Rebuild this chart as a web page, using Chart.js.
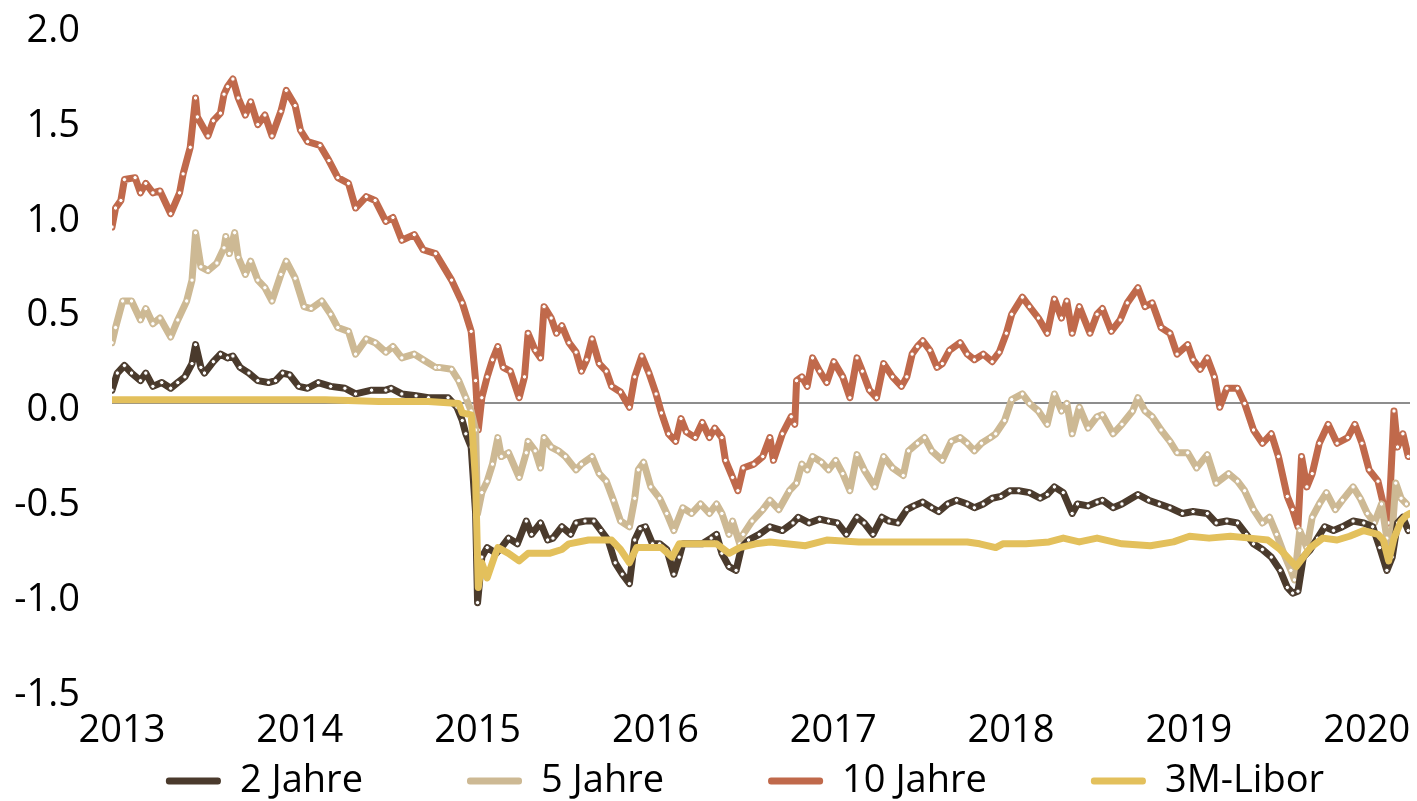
<!DOCTYPE html>
<html><head><meta charset="utf-8">
<script src="https://cdn.jsdelivr.net/npm/chart.js@4.4.1/dist/chart.umd.min.js"></script>
<style>html,body{margin:0;padding:0;background:#fff;}canvas{display:block;}</style>
</head><body>
<canvas id="c" width="1417" height="801"></canvas>
<script>
const seriesNames = ['2 Jahre', '5 Jahre', '10 Jahre', '3M-Libor'];
const seriesColors = ['#4a3a2c', '#cdb994', '#c0694b', '#e3c05c'];
const yearTicks = [2013, 2014, 2015, 2016, 2017, 2018, 2019, 2020];
const valueTicks = [-1.5, -1.0, -0.5, 0.0, 0.5, 1.0, 1.5, 2.0];

// [decimal year, yield %]
const twoYear = [[2013.00,0.07],[2013.03,0.16],[2013.07,0.20],[2013.11,0.16],[2013.16,0.12],[2013.19,0.16],[2013.23,0.09],[2013.28,0.11],[2013.33,0.08],[2013.37,0.11],[2013.41,0.14],[2013.45,0.21],[2013.47,0.31],[2013.50,0.19],[2013.52,0.16],[2013.57,0.22],[2013.61,0.26],[2013.65,0.24],[2013.68,0.25],[2013.72,0.19],[2013.77,0.16],[2013.82,0.12],[2013.88,0.11],[2013.92,0.12],[2013.96,0.16],[2014.00,0.15],[2014.05,0.09],[2014.10,0.08],[2014.16,0.11],[2014.23,0.09],[2014.31,0.08],[2014.37,0.05],[2014.46,0.07],[2014.54,0.07],[2014.57,0.08],[2014.63,0.05],[2014.71,0.04],[2014.78,0.03],
[2014.89,0.03],[2014.94,-0.02],[2014.97,-0.09],[2014.99,-0.16],[2015.02,-0.23],[2015.045,-0.58],[2015.056,-1.05],[2015.08,-0.81],[2015.11,-0.76],[2015.16,-0.79],[2015.19,-0.76],[2015.23,-0.71],[2015.28,-0.74],[2015.33,-0.62],[2015.36,-0.69],[2015.41,-0.63],[2015.45,-0.72],[2015.48,-0.71],[2015.53,-0.65],[2015.58,-0.69],[2015.61,-0.63],[2015.66,-0.62],[2015.71,-0.62],[2015.75,-0.67],[2015.79,-0.72],[2015.83,-0.84],[2015.87,-0.90],[2015.91,-0.95],[2015.94,-0.72],[2015.97,-0.66],[2016.00,-0.65],[2016.04,-0.74],[2016.08,-0.74],[2016.12,-0.77],[2016.16,-0.90],[2016.19,-0.81],[2016.21,-0.74],[2016.26,-0.74],[2016.32,-0.74],[2016.37,-0.71],[2016.40,-0.69],[2016.43,-0.79],[2016.47,-0.86],[2016.51,-0.88],[2016.54,-0.76],[2016.58,-0.72],[2016.64,-0.69],[2016.70,-0.65],
[2016.77,-0.67],[2016.83,-0.63],[2016.86,-0.60],[2016.92,-0.63],[2016.98,-0.61],[2017.03,-0.62],[2017.08,-0.63],[2017.13,-0.69],[2017.19,-0.60],[2017.23,-0.63],[2017.28,-0.69],[2017.33,-0.60],[2017.37,-0.62],[2017.42,-0.63],[2017.47,-0.56],[2017.51,-0.54],[2017.56,-0.52],[2017.61,-0.55],[2017.65,-0.57],[2017.70,-0.53],[2017.75,-0.51],[2017.81,-0.53],[2017.85,-0.55],[2017.90,-0.53],[2017.95,-0.50],[2018.00,-0.49],[2018.05,-0.46],[2018.10,-0.46],[2018.16,-0.47],[2018.22,-0.50],[2018.26,-0.48],[2018.30,-0.44],[2018.35,-0.47],[2018.40,-0.58],[2018.43,-0.53],[2018.49,-0.54],[2018.54,-0.52],
[2018.57,-0.51],[2018.63,-0.55],[2018.68,-0.53],[2018.77,-0.48],[2018.83,-0.51],[2018.89,-0.53],[2018.95,-0.55],[2019.02,-0.58],[2019.08,-0.57],[2019.16,-0.58],[2019.21,-0.63],[2019.27,-0.62],[2019.33,-0.63],[2019.38,-0.69],[2019.42,-0.74],[2019.47,-0.77],[2019.52,-0.81],[2019.57,-0.88],[2019.61,-0.97],[2019.64,-1.00],[2019.67,-0.99],[2019.70,-0.81],[2019.74,-0.77],[2019.78,-0.71],[2019.82,-0.65],[2019.87,-0.67],[2019.92,-0.65],[2019.98,-0.62],[2020.04,-0.63],[2020.09,-0.65],[2020.13,-0.76],[2020.17,-0.88],[2020.20,-0.81],[2020.23,-0.63],[2020.26,-0.60],[2020.29,-0.67]];

const fiveYear = [[2013.00,0.32],[2013.02,0.40],[2013.06,0.54],[2013.11,0.54],[2013.16,0.44],[2013.19,0.50],[2013.23,0.42],[2013.27,0.45],[2013.33,0.35],[2013.37,0.44],[2013.42,0.54],[2013.45,0.65],[2013.47,0.90],[2013.50,0.72],[2013.54,0.70],[2013.59,0.74],[2013.63,0.82],[2013.64,0.88],[2013.66,0.79],[2013.69,0.90],[2013.71,0.77],[2013.75,0.68],[2013.78,0.75],[2013.82,0.65],[2013.86,0.61],[2013.90,0.54],[2013.95,0.68],[2013.98,0.75],[2014.03,0.66],[2014.08,0.51],[2014.12,0.50],[2014.18,0.54],[2014.23,0.47],[2014.27,0.40],[2014.33,0.38],[2014.37,0.26],[2014.43,0.34],[2014.48,0.32],[2014.54,0.27],[2014.58,0.30],[2014.63,0.24],[2014.70,0.26],[2014.75,0.23],[2014.82,0.19],
[2014.84,0.19],[2014.91,0.18],[2014.95,0.12],[2014.99,0.03],[2015.02,-0.04],[2015.045,-0.14],[2015.056,-0.58],[2015.08,-0.47],[2015.11,-0.41],[2015.14,-0.32],[2015.17,-0.18],[2015.19,-0.28],[2015.23,-0.26],[2015.29,-0.39],[2015.33,-0.26],[2015.34,-0.20],[2015.38,-0.25],[2015.41,-0.34],[2015.43,-0.18],[2015.47,-0.23],[2015.51,-0.25],[2015.55,-0.28],[2015.61,-0.35],[2015.64,-0.32],[2015.70,-0.28],[2015.74,-0.37],[2015.78,-0.41],[2015.82,-0.51],[2015.86,-0.62],[2015.91,-0.65],[2015.94,-0.50],[2015.96,-0.35],[2015.99,-0.31],[2016.03,-0.44],[2016.08,-0.50],[2016.12,-0.58],[2016.16,-0.67],[2016.21,-0.55],[2016.26,-0.58],[2016.31,-0.53],[2016.36,-0.58],[2016.40,-0.53],[2016.43,-0.58],[2016.47,-0.69],[2016.49,-0.62],[2016.53,-0.74],[2016.55,-0.69],[2016.60,-0.62],[2016.66,-0.56],[2016.70,-0.51],
[2016.75,-0.56],[2016.81,-0.46],[2016.85,-0.42],[2016.88,-0.32],[2016.91,-0.35],[2016.94,-0.28],[2016.99,-0.31],[2017.03,-0.35],[2017.07,-0.30],[2017.11,-0.37],[2017.15,-0.46],[2017.19,-0.27],[2017.23,-0.35],[2017.29,-0.44],[2017.34,-0.28],[2017.39,-0.34],[2017.45,-0.38],[2017.48,-0.25],[2017.53,-0.21],[2017.57,-0.18],[2017.61,-0.25],[2017.67,-0.30],[2017.72,-0.20],[2017.77,-0.18],[2017.81,-0.21],[2017.85,-0.25],[2017.89,-0.21],[2017.94,-0.18],[2017.97,-0.16],[2018.02,-0.09],[2018.06,0.02],[2018.12,0.05],[2018.16,0.00],[2018.21,-0.04],[2018.26,-0.11],[2018.30,0.05],[2018.34,-0.04],[2018.37,0.00],[2018.40,-0.16],[2018.44,-0.02],[2018.49,-0.13],[2018.54,-0.07],
[2018.57,-0.06],[2018.63,-0.16],[2018.68,-0.11],[2018.74,-0.04],[2018.77,0.03],[2018.81,-0.04],[2018.85,-0.07],[2018.90,-0.14],[2018.95,-0.20],[2018.99,-0.26],[2019.05,-0.26],[2019.10,-0.34],[2019.16,-0.27],[2019.21,-0.42],[2019.28,-0.37],[2019.33,-0.41],[2019.37,-0.46],[2019.42,-0.56],[2019.47,-0.63],[2019.51,-0.60],[2019.55,-0.69],[2019.59,-0.79],[2019.63,-0.88],[2019.65,-0.93],[2019.68,-0.67],[2019.72,-0.76],[2019.75,-0.60],[2019.79,-0.53],[2019.83,-0.47],[2019.88,-0.56],[2019.92,-0.51],[2019.98,-0.44],[2020.02,-0.50],[2020.06,-0.58],[2020.10,-0.63],[2020.14,-0.53],[2020.17,-0.71],[2020.19,-0.81],[2020.22,-0.42],[2020.25,-0.50],[2020.28,-0.53]];

const tenYear = [[2013.00,0.93],[2013.02,1.03],[2013.05,1.07],[2013.07,1.18],[2013.13,1.19],[2013.16,1.11],[2013.19,1.16],[2013.23,1.11],[2013.27,1.12],[2013.33,1.00],[2013.38,1.11],[2013.40,1.21],[2013.44,1.35],[2013.47,1.61],[2013.48,1.51],[2013.54,1.41],[2013.57,1.49],[2013.61,1.53],[2013.63,1.63],[2013.65,1.67],[2013.68,1.71],[2013.71,1.61],[2013.75,1.52],[2013.78,1.59],[2013.82,1.47],[2013.86,1.52],[2013.90,1.41],[2013.95,1.54],[2013.98,1.65],[2014.03,1.57],[2014.06,1.44],[2014.10,1.38],[2014.17,1.36],[2014.22,1.28],[2014.27,1.19],[2014.33,1.16],[2014.37,1.03],[2014.43,1.09],[2014.48,1.07],[2014.54,0.96],[2014.58,0.98],[2014.63,0.86],[2014.70,0.89],[2014.75,0.81],[2014.82,0.79],
[2014.91,0.65],[2014.97,0.53],[2015.02,0.38],[2015.045,0.12],[2015.06,-0.14],[2015.08,0.03],[2015.11,0.14],[2015.14,0.23],[2015.17,0.30],[2015.20,0.19],[2015.24,0.17],[2015.29,0.03],[2015.32,0.14],[2015.34,0.37],[2015.38,0.28],[2015.41,0.24],[2015.43,0.51],[2015.47,0.45],[2015.50,0.37],[2015.53,0.41],[2015.57,0.32],[2015.61,0.27],[2015.64,0.17],[2015.67,0.23],[2015.70,0.34],[2015.74,0.21],[2015.78,0.17],[2015.81,0.09],[2015.86,0.06],[2015.91,-0.02],[2015.94,0.14],[2015.98,0.25],[2016.02,0.16],[2016.06,0.05],[2016.09,-0.05],[2016.13,-0.16],[2016.17,-0.20],[2016.20,-0.08],[2016.23,-0.15],[2016.28,-0.18],[2016.32,-0.10],[2016.36,-0.18],[2016.39,-0.13],[2016.43,-0.18],[2016.45,-0.30],[2016.49,-0.39],[2016.52,-0.46],[2016.55,-0.34],[2016.61,-0.32],[2016.66,-0.28],[2016.70,-0.18],
[2016.72,-0.30],[2016.77,-0.16],[2016.82,-0.07],[2016.84,-0.11],[2016.85,0.12],[2016.88,0.14],[2016.91,0.09],[2016.94,0.24],[2016.98,0.17],[2017.02,0.11],[2017.06,0.22],[2017.11,0.14],[2017.15,0.03],[2017.19,0.24],[2017.22,0.17],[2017.26,0.07],[2017.30,0.03],[2017.34,0.21],[2017.39,0.14],[2017.44,0.09],[2017.47,0.14],[2017.50,0.26],[2017.53,0.30],[2017.56,0.33],[2017.60,0.28],[2017.64,0.19],[2017.67,0.21],[2017.71,0.28],[2017.77,0.32],[2017.81,0.26],[2017.85,0.23],[2017.90,0.26],[2017.95,0.22],[2017.99,0.27],[2018.03,0.37],[2018.06,0.47],[2018.12,0.56],[2018.16,0.51],[2018.21,0.45],[2018.26,0.37],[2018.30,0.55],[2018.34,0.45],[2018.37,0.54],[2018.40,0.37],[2018.44,0.51],[2018.50,0.37],[2018.54,0.47],
[2018.57,0.50],[2018.62,0.38],[2018.67,0.44],[2018.71,0.53],[2018.77,0.61],[2018.81,0.51],[2018.85,0.53],[2018.90,0.40],[2018.95,0.37],[2018.99,0.26],[2019.05,0.31],[2019.08,0.23],[2019.12,0.18],[2019.16,0.24],[2019.20,0.14],[2019.23,-0.02],[2019.27,0.08],[2019.33,0.08],[2019.37,0.00],[2019.42,-0.14],[2019.47,-0.21],[2019.52,-0.16],[2019.56,-0.28],[2019.61,-0.49],[2019.64,-0.56],[2019.67,-0.65],[2019.69,-0.28],[2019.72,-0.44],[2019.75,-0.37],[2019.79,-0.21],[2019.84,-0.11],[2019.89,-0.21],[2019.95,-0.18],[2019.99,-0.11],[2020.03,-0.21],[2020.07,-0.35],[2020.12,-0.41],[2020.15,-0.53],[2020.18,-0.63],[2020.21,-0.04],[2020.23,-0.23],[2020.26,-0.16],[2020.29,-0.28]];

const libor3m = [[2013.00,0.02],[2013.30,0.02],[2013.60,0.02],[2013.90,0.02],[2014.20,0.02],[2014.50,0.01],[2014.78,0.01],[2014.95,0.00],[2014.97,-0.05],[2015.02,-0.06],[2015.045,-0.41],[2015.06,-0.97],[2015.08,-0.84],[2015.11,-0.92],[2015.15,-0.81],[2015.17,-0.76],[2015.23,-0.79],[2015.29,-0.83],[2015.34,-0.79],[2015.46,-0.79],[2015.53,-0.77],[2015.57,-0.74],[2015.68,-0.72],[2015.81,-0.72],[2015.86,-0.77],[2015.91,-0.84],[2015.95,-0.76],[2016.02,-0.76],[2016.09,-0.76],[2016.15,-0.81],[2016.19,-0.74],[2016.28,-0.74],[2016.40,-0.74],[2016.47,-0.79],[2016.53,-0.76],[2016.62,-0.74],[2016.70,-0.73],[2016.90,-0.75],[2017.02,-0.72],[2017.20,-0.73],[2017.39,-0.73],[2017.58,-0.73],[2017.81,-0.73],[2017.88,-0.74],[2017.97,-0.76],[2018.01,-0.74],[2018.14,-0.74],[2018.27,-0.73],[2018.35,-0.71],[2018.44,-0.73],[2018.54,-0.71],[2018.68,-0.74],[2018.84,-0.75],[2018.97,-0.73],[2019.06,-0.70],[2019.17,-0.71],[2019.29,-0.70],[2019.40,-0.71],[2019.50,-0.72],[2019.57,-0.77],[2019.63,-0.83],[2019.66,-0.86],[2019.70,-0.81],[2019.74,-0.76],[2019.81,-0.71],[2019.89,-0.72],[2019.96,-0.70],[2020.04,-0.67],[2020.12,-0.69],[2020.15,-0.72],[2020.18,-0.83],[2020.21,-0.71],[2020.25,-0.62],[2020.28,-0.59],[2020.30,-0.58]];

const seriesData = [twoYear, fiveYear, tenYear, libor3m];
const drawOrder = [2, 3, 4, 1];
const FONT = "'Open Sans', 'Noto Sans', sans-serif";
const LEGEND_GAP = 104;

// place the wide-spaced legend row like the reference
const legendShift = {
  id: 'legendShift',
  afterLayout(chart) {
    const lg = chart.legend;
    if (!lg) return;
    lg.top = lg.top - LEGEND_GAP + 8;
    lg.left += 40;
    lg.right += 40;
  }
};

const datasets = seriesData.map((arr, i) => ({
  label: seriesNames[i],
  data: arr.map(p => ({x: p[0], y: p[1]})),
  borderColor: seriesColors[i],
  backgroundColor: seriesColors[i],
  borderWidth: 7,
  borderJoinStyle: 'round',
  borderCapStyle: 'round',
  tension: 0,
  pointRadius: i === 3 ? 0 : 2.2,
  pointBorderWidth: 1,
  pointBackgroundColor: '#ffffff',
  pointBorderColor: seriesColors[i],
  order: drawOrder[i]
}));

new Chart(document.getElementById('c'), {
  type: 'line',
  data: { datasets },
  plugins: [legendShift],
  options: {
    responsive: false,
    animation: false,
    devicePixelRatio: 1,
    layout: { padding: { left: 0, right: 7, top: 24, bottom: 0 } },
    plugins: {
      tooltip: { enabled: false },
      legend: {
        position: 'bottom',
        maxHeight: 47,
        labels: {
          boxWidth: 55,
          boxHeight: 7,
          useBorderRadius: true,
          borderRadius: 3,
          padding: LEGEND_GAP,
          color: '#000',
          font: { family: FONT, size: 38 },
          sort: (a, b) => a.datasetIndex - b.datasetIndex,
          generateLabels(chart) {
            const items = Chart.defaults.plugins.legend.labels.generateLabels(chart);
            items.forEach(it => { it.lineWidth = 0; it.fillStyle = it.strokeStyle; });
            return items;
          }
        }
      }
    },
    scales: {
      x: {
        type: 'linear',
        min: 2013.0,
        max: 2020.30,
        afterBuildTicks: s => { s.ticks = yearTicks.map(v => ({ value: v })); },
        afterFit: s => { s.height = 66; s.paddingLeft = 0; s.paddingRight = 0; },
        grid: { display: false, drawTicks: false },
        border: { display: false },
        ticks: {
          padding: 20,
          labelOffset: 10,
          maxRotation: 0,
          autoSkip: false,
          color: '#000',
          font: { family: FONT, size: 38 },
          callback: v => String(Math.round(v))
        }
      },
      y: {
        type: 'linear',
        min: -1.5,
        max: 2.0,
        afterBuildTicks: s => { s.ticks = valueTicks.map(v => ({ value: v })); },
        afterFit: s => { s.width = 112; s.paddingTop = 0; s.paddingBottom = 0; },
        grid: {
          drawTicks: false,
          lineWidth: 2,
          color: c => (c.tick && Math.abs(c.tick.value) < 1e-9) ? '#8d8d8d' : 'rgba(0,0,0,0)'
        },
        border: { display: false },
        ticks: {
          padding: 32,
          labelOffset: 7,
          color: '#000',
          font: { family: FONT, size: 38 },
          callback: v => Number(v).toFixed(1)
        }
      }
    }
  }
});
</script>
</body></html>
